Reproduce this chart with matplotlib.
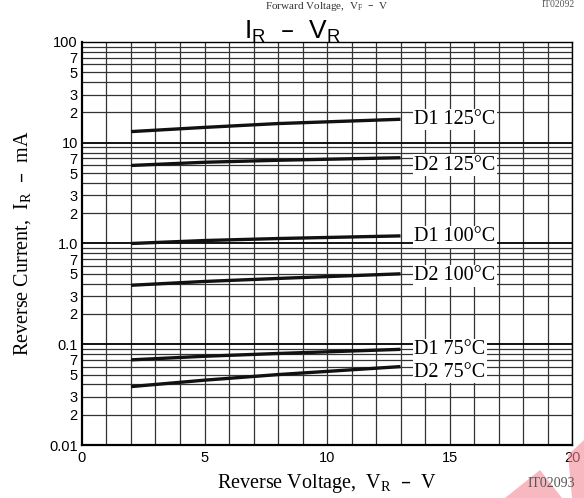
import numpy as np
import matplotlib
matplotlib.use("Agg")
import matplotlib.pyplot as plt
from matplotlib.patches import Polygon

# data (VR in V, IR in mA)
vr = [2, 5, 8, 13]
d1_125 = [12.9, 14.2, 15.5, 17.1]
d2_125 = [5.95, 6.4, 6.7, 7.1]
d1_100 = [1.0, 1.07, 1.12, 1.19]
d2_100 = [0.385, 0.42, 0.45, 0.50]
d1_75 = [0.070, 0.076, 0.081, 0.089]
d2_75 = [0.038, 0.044, 0.050, 0.060]
curves = [d1_125, d2_125, d1_100, d2_100, d1_75, d2_75]
labels = ["D1 125°C", "D2 125°C", "D1 100°C", "D2 100°C", "D1 75°C", "D2 75°C"]
label_y = [17.0, 6.0, 1.17, 0.48, 0.088, 0.053]

serif = ["Liberation Serif", "DejaVu Serif"]
sans = ["Liberation Sans", "DejaVu Sans"]

fig = plt.figure(figsize=(5.84, 4.98), dpi=100)
ax = fig.add_axes([0.1404, 0.1064, 0.8391, 0.8093])

ax.set_yscale("log")
ax.set_xlim(0, 20)
ax.set_ylim(0.01, 100)

# grid
for v in range(1, 21):
    ax.axvline(v, color="#333333", lw=0.9, zorder=1)
for dec in [0.01, 0.1, 1, 10]:
    for m in range(2, 10):
        ax.axhline(dec * m, color="#333333", lw=0.9, zorder=1)
    ax.axhline(dec * 10, color="black", lw=1.3, zorder=1)

for c in curves:
    ax.plot(vr, c, color="#111111", lw=2.4, zorder=3, solid_capstyle="butt")

for lab, yy in zip(labels, label_y):
    ax.text(13.55, yy, lab, fontsize=14.5, family=serif, va="center", ha="left",
            zorder=4, bbox=dict(facecolor="white", edgecolor="none", pad=1.0))

# ticks
ax.set_xticks([0, 5, 10, 15, 20])
ax.set_xticklabels(["0", "5", "10", "15", "20"], family=sans, fontsize=10.5)
yt = [0.01, 0.1, 1, 10, 100]
yl = ["0.01", "0.1", "1.0", "10", "100"]
yt2, yl2 = [], []
for dec in [0.01, 0.1, 1, 10]:
    for m in [2, 3, 5, 7]:
        yt2.append(dec * m); yl2.append(str(m))
ax.set_yticks(yt)
ax.set_yticklabels(yl, family=sans, fontsize=10.5)
ax.set_yticks(yt2, minor=True)
ax.set_yticklabels(yl2, minor=True, family=sans, fontsize=10.5)
ax.tick_params(axis="both", which="both", length=0, pad=3)
ax.tick_params(axis="x", pad=4)

for s in ["left", "bottom"]:
    ax.spines[s].set_linewidth(1.6)
for s in ["top", "right"]:
    ax.spines[s].set_linewidth(1.0)

ax.set_xlabel("Reverse Voltage,  V$_\\mathregular{R}$  –  V", family=serif, fontsize=14.5, labelpad=5)
ax.set_ylabel("Reverse Current,  I$_\\mathregular{R}$  –  mA", family=serif, fontsize=14.5, labelpad=12)

fig.text(0.5, 0.937, "I$_\\mathregular{R}$  –  V$_\\mathregular{R}$", family=sans, fontsize=19,
         ha="center", va="center")
fig.text(0.985, 0.03, "IT02093", family=serif, fontsize=10, color="#555555", ha="right", va="center")
# caption of the chart above (cut off in the original)
fig.text(0.56, 0.999, "Forward Voltage,  V$_\\mathregular{F}$  –  V", family=serif, fontsize=8,
         ha="center", va="top", color="#333333")
fig.text(0.985, 0.999, "IT02092", family=serif, fontsize=7, ha="right", va="top", color="#555555")

# watermark fragments
wm1 = Polygon([(540 / 584, 1 - 470 / 498), (505 / 584, 0.0), (562 / 584, 0.0)],
              closed=True, transform=fig.transFigure, facecolor="#f38a95", alpha=0.6,
              edgecolor="none", zorder=0)
wm2 = Polygon([(1.0, 1 - 440 / 498), (1.0, 0.0), (572 / 584, 0.0), (568 / 584, 1 - 455 / 498)],
              closed=True, transform=fig.transFigure, facecolor="#f38a95", alpha=0.6,
              edgecolor="none", zorder=0)
fig.patches.append(wm1)
fig.patches.append(wm2)

fig.savefig("out.png", dpi=100)
